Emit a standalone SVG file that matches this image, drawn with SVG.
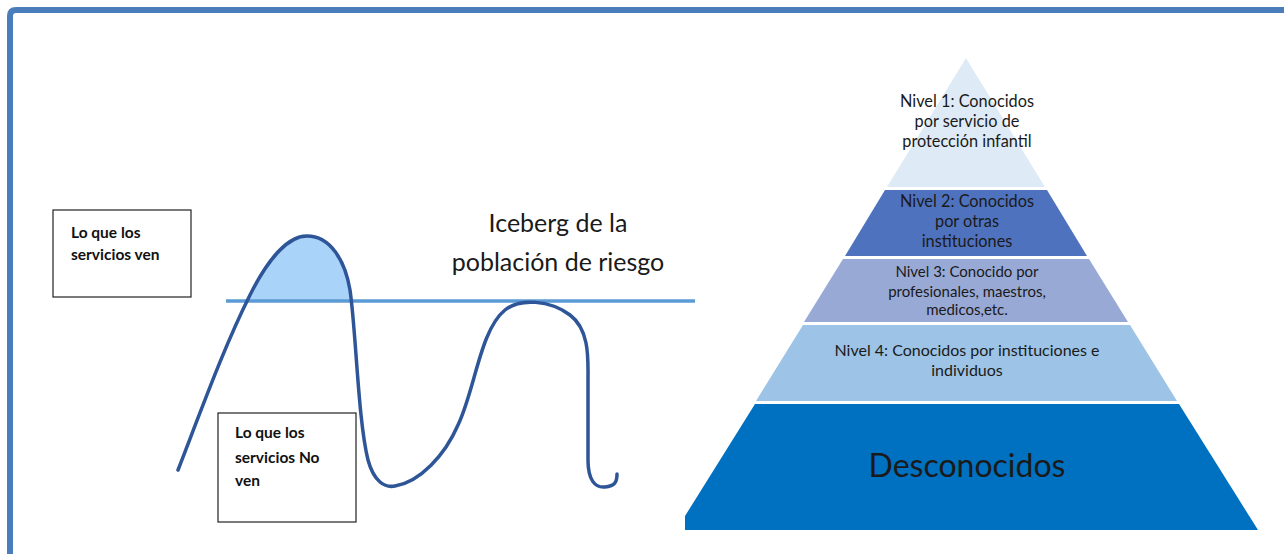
<svg xmlns="http://www.w3.org/2000/svg" width="1284" height="554" viewBox="0 0 1284 554">
<style>
.t{font-family:Lato,"Liberation Sans",sans-serif;fill:#1a1a1a;text-anchor:middle}
.b{font-family:Lato,"Liberation Sans",sans-serif;font-weight:bold;fill:#111;font-size:15.5px}
.box{fill:#fff;stroke:#222;stroke-width:1.2}
.ice{fill:none;stroke:#2E5597;stroke-width:3.5;stroke-linecap:round;stroke-linejoin:round}
</style>
<defs>
<clipPath id="above"><rect x="0" y="0" width="1284" height="301"/></clipPath>
</defs>
<rect width="1284" height="554" fill="#fff"/>
<path d="M10,554 L10,16 Q10,10 16,10 L1284,10" fill="none" stroke="#4A7EBB" stroke-width="6"/>

<g id="iceberg">
<path d="M250,295 C270,255 290,236 307,236 C330,236 345,260 350,290 C352,300 352,305 352,310 L240,310 Z" fill="#A9D3F9" clip-path="url(#above)"/>
<line x1="226" y1="301" x2="695" y2="301" stroke="#5B9BD5" stroke-width="3.5"/>
<path class="ice" d="M178,470 C205,400 225,345 250,295 C270,255 290,236 307,236 C330,236 345,260 350,290 C356,330 358,420 368,460 C374,482 385,488 395,486 C420,482 445,455 458,425 C475,390 480,330 505,310 C520,298 550,300 570,315 C590,330 588,360 588,380 L588,460 C588,480 595,488 605,487 C615,486 617,482 617,474"/>
</g>

<g id="title">
<text class="t" x="558" y="232" font-size="25" fill="#333">Iceberg de la</text>
<text class="t" x="558" y="271" font-size="25" fill="#333">población de riesgo</text>
</g>

<g id="box-ven">
<rect class="box" x="53" y="210" width="138" height="87"/>
<text class="b" x="71" y="238">Lo que los</text>
<text class="b" x="71" y="260">servicios ven</text>
</g>

<g id="box-noven">
<rect class="box" x="218" y="413" width="138" height="109"/>
<text class="b" x="235" y="438">Lo que los</text>
<text class="b" x="235" y="463">servicios No</text>
<text class="b" x="235" y="486">ven</text>
</g>

<g id="nivel1">
<polygon points="966,58 1045,187 887,187" fill="#DEEBF7"/>
<text class="t" x="967" y="107" font-size="16.3">Nivel 1: Conocidos</text>
<text class="t" x="967" y="127" font-size="16.3">por servicio de</text>
<text class="t" x="967" y="147" font-size="16.3">protección infantil</text>
</g>
<g id="nivel2">
<polygon points="885,190 1047,190 1087,256 845,256" fill="#4F72BF"/>
<text class="t" x="967" y="207" font-size="16.3">Nivel 2: Conocidos</text>
<text class="t" x="967" y="227" font-size="16.3">por otras</text>
<text class="t" x="967" y="247" font-size="16.3">instituciones</text>
</g>
<g id="nivel3">
<polygon points="843,259 1089,259 1128,322 804,322" fill="#98A9D6"/>
<text class="t" x="967" y="277" font-size="15">Nivel 3: Conocido por</text>
<text class="t" x="967" y="297" font-size="15">profesionales, maestros,</text>
<text class="t" x="967" y="315" font-size="15">medicos,etc.</text>
</g>
<g id="nivel4">
<polygon points="803,325 1130,325 1177,401 756,401" fill="#9DC3E6"/>
<text class="t" x="967" y="356" font-size="16">Nivel 4: Conocidos por instituciones e</text>
<text class="t" x="967" y="376" font-size="16">individuos</text>
</g>
<g id="desconocidos">
<polygon points="755,404 1179,404 1258,530 685,530 685,516" fill="#0070C0"/>
<text class="t" x="967" y="477" font-size="32" fill="#111">Desconocidos</text>
</g>
</svg>
